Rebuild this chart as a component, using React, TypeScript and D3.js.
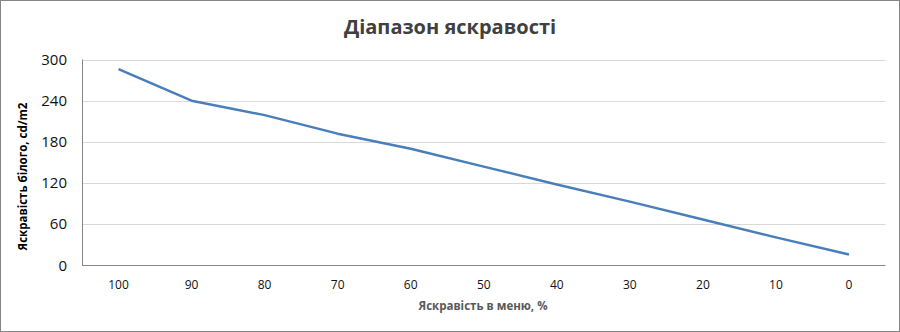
import React from "react";
import * as d3 from "d3";

const categories = ["100", "90", "80", "70", "60", "50", "40", "30", "20", "10", "0"];
const brightness = [286, 240, 219, 192, 170, 144, 118, 93, 67, 41, 16];
const yTicks = [0, 60, 120, 180, 240, 300];
const title = "Діапазон яскравості";
const xTitle = "Яскравість в меню, %";
const yTitle = "Яскравість білого, cd/m2";

const W = 900;
const H = 332;
const plot = { left: 82, right: 885.5, top: 59.5, bottom: 265.5 };

export default function App() {
  const x = d3.scaleBand<string>().domain(categories).range([plot.left, plot.right]);
  const y = d3.scaleLinear().domain([0, 300]).range([plot.bottom, plot.top]);
  const line = d3
    .line<number>()
    .x((_, i) => (x(categories[i]) as number) + x.bandwidth() / 2)
    .y((d) => y(d));
  const font = "'Open Sans', sans-serif";
  return (
    <svg width={W} height={H} style={{ position: "absolute", left: 0, top: 0, background: "#fff" }}>
      <rect x={0.5} y={0.5} width={W - 1} height={H - 1} fill="#fff" stroke="#868686" />
      {yTicks.map((t) => (
        <g key={t}>
          {t > 0 && (
            <line x1={plot.left} x2={plot.right} y1={Math.round(y(t)) + 0.5} y2={Math.round(y(t)) + 0.5} stroke="#d9d9d9" />
          )}
          <text x={67} y={y(t) + 5} textAnchor="end" fontFamily={font} fontSize={15} fill="#111">
            {t}
          </text>
        </g>
      ))}
      <line x1={plot.left} x2={plot.right} y1={plot.bottom} y2={plot.bottom} stroke="#868686" />
      <line x1={plot.left + 0.5} x2={plot.left + 0.5} y1={plot.top} y2={plot.bottom} stroke="#868686" />
      {categories.map((c) => (
        <text
          key={c}
          x={(x(c) as number) + x.bandwidth() / 2}
          y={289}
          textAnchor="middle"
          fontFamily={font}
          fontSize={12}
          fill="#111"
        >
          {c}
        </text>
      ))}
      <path d={line(brightness) || ""} fill="none" stroke="#4a7ebb" strokeWidth={2.5} strokeLinejoin="round" />
      <text x={450} y={34} textAnchor="middle" fontFamily={font} fontWeight="bold" fontSize={20} fill="#404040">
        {title}
      </text>
      <text x={483} y={310} textAnchor="middle" fontFamily={font} fontWeight="bold" fontSize={11.5} fill="#595959">
        {xTitle}
      </text>
      <text
        transform={`translate(27,${(plot.top + plot.bottom) / 2 + 14}) rotate(-90)`}
        textAnchor="middle"
        fontFamily={font}
        fontWeight="bold"
        fontSize={11.5}
        fill="#000"
      >
        {yTitle}
      </text>
    </svg>
  );
}
